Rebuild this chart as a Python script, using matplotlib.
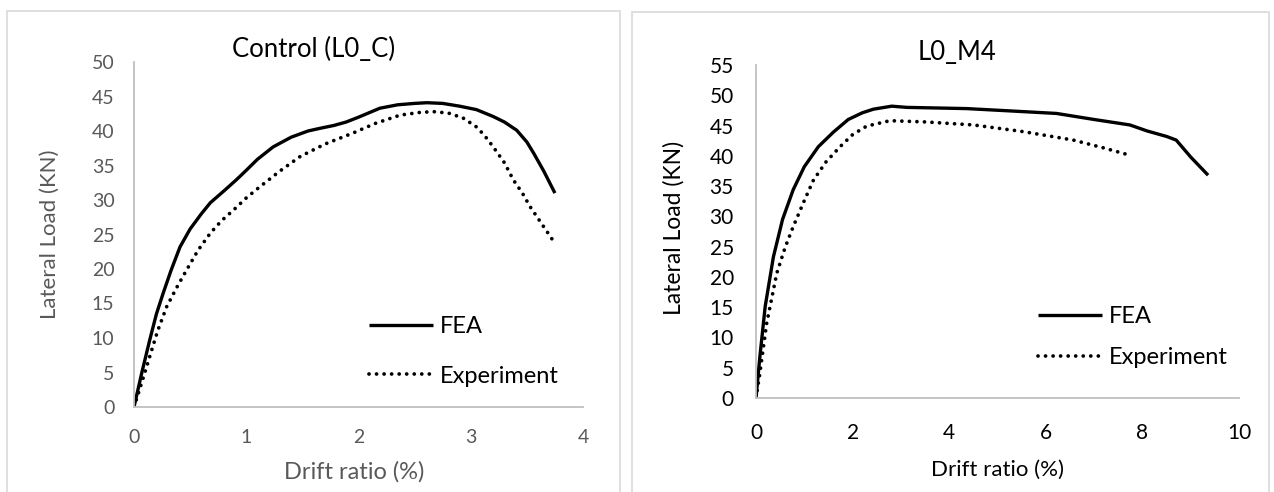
import matplotlib.pyplot as plt
from matplotlib.patches import Rectangle

plt.rcParams['font.family'] = ['Lato', 'DejaVu Sans']

# Panel izquierdo: Control (L0_C)
c_fea_x = [0, 0.07, 0.14, 0.2, 0.26, 0.33, 0.41, 0.5, 0.6, 0.68, 0.8, 0.91, 1.0, 1.1, 1.24,
           1.4, 1.55, 1.66, 1.78, 1.89, 2.0, 2.19, 2.35, 2.5, 2.61, 2.75, 2.9, 3.05, 3.2,
           3.3, 3.41, 3.5, 3.56, 3.65, 3.75]
c_fea_y = [0, 5, 9.7, 13.5, 16.5, 19.8, 23.2, 25.8, 28.0, 29.6, 31.3, 32.9, 34.3, 35.9, 37.7,
           39.1, 40.0, 40.4, 40.8, 41.3, 42.0, 43.3, 43.8, 44.0, 44.1, 44.0, 43.6, 43.1, 42.1,
           41.3, 40.1, 38.4, 36.8, 34.2, 31.0]
c_exp_x = [0, 0.07, 0.14, 0.21, 0.29, 0.38, 0.47, 0.57, 0.68, 0.78, 0.89, 1.0, 1.12, 1.3,
           1.48, 1.7, 1.95, 2.15, 2.37, 2.55, 2.67, 2.8, 2.93, 3.05, 3.12, 3.2, 3.3, 3.38,
           3.46, 3.53, 3.63, 3.73]
c_exp_y = [0, 3.6, 7.3, 11.0, 14.5, 17.3, 19.9, 22.7, 25.2, 27.0, 28.6, 30.3, 31.9, 34.2,
           36.3, 38.1, 39.7, 41.1, 42.3, 42.7, 42.8, 42.6, 41.9, 40.6, 39.4, 37.7, 35.4, 32.9,
           31.0, 29.0, 26.6, 24.2]

# Panel derecho: L0_M4
m_fea_x = [0, 0.08, 0.19, 0.36, 0.55, 0.77, 1.0, 1.29, 1.6, 1.91, 2.2, 2.43, 2.81, 3.12,
           4.36, 5.3, 6.22, 7.0, 7.74, 8.1, 8.5, 8.7, 9.0, 9.36]
m_fea_y = [0, 6.8, 15.1, 23.3, 29.5, 34.4, 38.2, 41.5, 43.9, 46.0, 47.1, 47.7, 48.2, 48.0,
           47.8, 47.4, 47.0, 46.0, 45.1, 44.1, 43.2, 42.6, 39.8, 36.8]
m_exp_x = [0, 0.08, 0.22, 0.43, 0.6, 0.77, 1.0, 1.19, 1.45, 1.74, 2.0, 2.29, 2.77, 3.5,
           4.5, 5.53, 6.57, 7.2, 7.74]
m_exp_y = [0, 4.1, 12.3, 20.6, 24.8, 28.3, 32.6, 36.0, 39.0, 41.5, 43.5, 44.9, 45.8, 45.6,
           45.1, 44.0, 42.6, 41.3, 40.1]

grid_gray = '#d9d9d9'
txt_gray = '#595959'
dotted = (0, (0.01, 2.0))

fig = plt.figure(figsize=(12.74, 4.92), dpi=100)

# marcos de los dos graficos (estilo Excel)
fig.patches.append(Rectangle((7 / 1274, -0.05), (620 - 7) / 1274, (492 - 11) / 492 + 0.05,
                             transform=fig.transFigure, fill=False, edgecolor=grid_gray, lw=1.2))
fig.patches.append(Rectangle((632 / 1274, -0.05), 0.5, (492 - 12) / 492 + 0.05,
                             transform=fig.transFigure, fill=False, edgecolor=grid_gray, lw=1.2))

ax1 = fig.add_axes([134 / 1274, 85 / 492, 449 / 1274, 345 / 492])
ax2 = fig.add_axes([756 / 1274, 94 / 492, 483 / 1274, 333 / 492])


def style_axes(ax, tcolor, size, xpad, ypad):
    for s in ['top', 'right']:
        ax.spines[s].set_visible(False)
    for s in ['left', 'bottom']:
        ax.spines[s].set_color('#bfbfbf')
        ax.spines[s].set_linewidth(1.3)
    ax.tick_params(length=0, labelsize=size, colors=tcolor)
    ax.tick_params(axis='x', pad=xpad)
    ax.tick_params(axis='y', pad=ypad)


ax1.plot(c_fea_x, c_fea_y, color='black', lw=2.4, label='FEA', solid_capstyle='butt')
ax1.plot(c_exp_x, c_exp_y, color='black', lw=2.7, linestyle=dotted, dash_capstyle='round',
         label='Experiment')
ax1.set_xlim(0, 4)
ax1.set_ylim(0, 50)
ax1.set_xticks(range(0, 5))
ax1.set_yticks(range(0, 51, 5))
style_axes(ax1, txt_gray, 14, 16, 14)
ax1.set_xlabel('Drift ratio (%)', fontsize=17, color=txt_gray)
ax1.set_ylabel('Lateral Load (KN)', fontsize=16, color=txt_gray)
ax1.xaxis.set_label_coords(0.49, -0.157)
ax1.yaxis.set_label_coords(-0.165, 0.50)
ax1.set_title('Control (L0_C)', fontsize=18.5, color='black', pad=3.6, x=0.399)
ax1.legend(loc='upper left', bbox_to_anchor=(0.498, 0.297), frameon=False, fontsize=17,
           handlelength=2.7, handletextpad=0.3, labelspacing=1.2, borderpad=0)

ax2.plot(m_fea_x, m_fea_y, color='black', lw=2.4, label='FEA', solid_capstyle='butt')
ax2.plot(m_exp_x, m_exp_y, color='black', lw=2.7, linestyle=dotted, dash_capstyle='round',
         label='Experiment')
ax2.set_xlim(0, 10)
ax2.set_ylim(0, 55)
ax2.set_xticks(range(0, 11, 2))
ax2.set_yticks(range(0, 56, 5))
style_axes(ax2, 'black', 15, 18, 16)
ax2.set_xlabel('Drift ratio (%)', fontsize=16, color='black')
ax2.set_ylabel('Lateral Load (KN)', fontsize=16.5, color='black')
ax2.xaxis.set_label_coords(0.499, -0.186)
ax2.yaxis.set_label_coords(-0.147, 0.51)
ax2.set_title('L0_M4', fontsize=18.5, color='black', pad=3.6, x=0.416)
ax2.legend(loc='upper left', bbox_to_anchor=(0.56, 0.311), frameon=False, fontsize=17,
           handlelength=2.7, handletextpad=0.3, labelspacing=0.85, borderpad=0)

plt.savefig('out.png', dpi=100)
